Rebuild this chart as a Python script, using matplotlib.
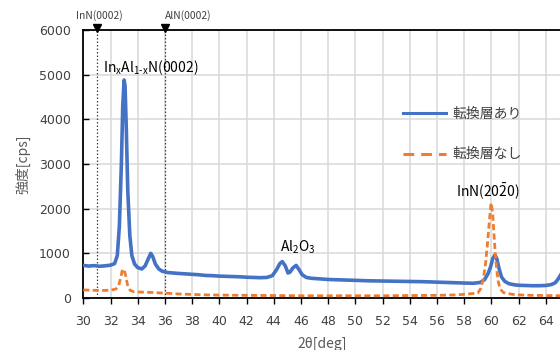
import matplotlib
matplotlib.use("Agg")
import matplotlib.pyplot as plt
from matplotlib.lines import Line2D

plt.rcParams['font.family'] = ['Noto Sans CJK JP', 'DejaVu Sans']
plt.rcParams['mathtext.fontset'] = 'custom'
plt.rcParams['mathtext.rm'] = 'Noto Sans CJK JP'
plt.rcParams['mathtext.it'] = 'Noto Sans CJK JP'
plt.rcParams['mathtext.default'] = 'rm'

# --- data ---
x_with = [30.0, 30.4, 30.8, 31.2, 31.6, 32.0, 32.3, 32.5, 32.65, 32.8, 32.9, 33.0, 33.07, 33.17,
          33.27, 33.42, 33.57, 33.77, 34.0, 34.3, 34.55, 34.75, 34.96, 35.1, 35.3, 35.55, 35.8,
          36.2, 36.6, 37.0, 37.5, 38.0, 38.5, 39.0, 39.5, 40.0, 40.5, 41.0, 41.5, 42.0, 42.5,
          43.0, 43.5, 43.9, 44.2, 44.45, 44.63, 44.85, 45.05, 45.2, 45.4, 45.65, 45.85, 46.1,
          46.4, 46.8, 47.3, 48.0, 49.0, 50.0, 51.0, 52.0, 53.0, 54.0, 55.0, 56.0, 57.0, 58.0,
          58.7, 59.2, 59.5, 59.75, 59.95, 60.1, 60.27, 60.4, 60.55, 60.75, 61.0, 61.3, 61.7,
          62.0, 62.5, 63.0, 63.5, 64.0, 64.4, 64.7, 64.9, 65.1]
y_with = [730, 715, 725, 710, 720, 735, 770, 950, 1600, 3000, 4300, 4880, 4750, 3700,
          2400, 1400, 950, 760, 680, 650, 720, 860, 1000, 930, 760, 650, 600,
          570, 560, 550, 540, 530, 520, 505, 500, 490, 485, 480, 475, 465, 460,
          455, 460, 500, 630, 770, 815, 720, 560, 580, 670, 730, 640, 520,
          460, 440, 430, 415, 405, 395, 385, 380, 375, 370, 365, 355, 345, 335,
          330, 350, 410, 540, 700, 880, 965, 880, 680, 470, 370, 320, 295,
          285, 280, 275, 275, 280, 300, 340, 420, 520]

x_without = [30.0, 30.5, 31.0, 31.5, 32.0, 32.4, 32.6, 32.75, 32.88, 32.98, 33.1, 33.25, 33.45,
             33.7, 34.0, 34.5, 35.0, 35.5, 36.0, 37.0, 38.0, 39.0, 40.0, 42.0, 44.0, 46.0,
             48.0, 50.0, 52.0, 54.0, 56.0, 57.5, 58.3, 59.0, 59.2, 59.4, 59.55, 59.7, 59.85,
             59.98, 60.1, 60.2, 60.3, 60.4, 60.5, 60.65, 60.9, 61.2, 61.6, 62.0, 63.0, 64.0, 65.1]
y_without = [180, 175, 170, 170, 175, 200, 280, 450, 640, 640, 520, 300, 170,
             140, 135, 130, 125, 115, 110, 90, 80, 70, 65, 60, 55, 50,
             50, 50, 50, 55, 60, 70, 90, 110, 200, 420, 700, 1150, 1700,
             2130, 1900, 1400, 950, 630, 380, 200, 120, 100, 80, 70, 60, 55, 50]

series_labels = ['転換層あり', '転換層なし']
ref_positions = [31, 36]
ref_labels = ['InN(0002)', 'AlN(0002)']
xticks = list(range(30, 66, 2))
yticks = list(range(0, 7000, 1000))

blue = '#4472C4'
orange = '#ED7D31'
tick_color = '#404040'

fig = plt.figure(figsize=(5.6, 3.5), dpi=100)
ax = fig.add_axes([83.3 / 560, 52 / 350, (560 - 83.3) / 560, 268 / 350])
ax.set_xlim(30, 65.05)
ax.set_ylim(0, 6000)
ax.set_xticks(xticks)
ax.set_yticks(yticks)
ax.grid(True, color='#d9d9d9', linewidth=1.1)
ax.set_axisbelow(True)
for s in ['left', 'bottom', 'top']:
    ax.spines[s].set_color('black')
    ax.spines[s].set_linewidth(1.3)
ax.spines['right'].set_visible(False)
ax.tick_params(axis='x', direction='out', length=4, width=1, colors='black',
               labelcolor=tick_color, labelsize=9, pad=8)
ax.tick_params(axis='y', direction='in', length=4, width=1, colors='black',
               labelcolor=tick_color, labelsize=9, pad=9)
for lbl in ax.get_xticklabels() + ax.get_yticklabels():
    lbl.set_fontfamily('DejaVu Sans')

for xr in ref_positions:
    ax.axvline(xr, color='#404040', linestyle=(0, (1.2, 1.6)), linewidth=0.9, zorder=1.5)
    ax.plot([xr], [6035], marker='v', color='black', markersize=6, clip_on=False, zorder=5)

ax.plot(x_with, y_with, color=blue, linewidth=2.6, zorder=3, solid_joinstyle='round')
ax.plot(x_without, y_without, color=orange, linewidth=2.0, zorder=4,
        linestyle=(0, (2.2, 1.2)))

# reference labels above the plot
fig.text(99.5 / 560, 1 - 16 / 350, ref_labels[0], fontsize=7.4, color=tick_color,
         ha='center', va='center')
fig.text(188 / 560, 1 - 16 / 350, ref_labels[1], fontsize=7.4, color=tick_color,
         ha='center', va='center')

# peak annotations
fig.text(103 / 560, 1 - 68 / 350, r'In$_x$Al$_{1\text{-}x}$N(0002)', fontsize=10,
         color='black', ha='left', va='center')
fig.text(280 / 560, 1 - 247 / 350, r'Al$_2$O$_3$', fontsize=10, color='black',
         ha='left', va='center')
fig.text(456 / 560, 1 - 192 / 350, r'InN(20$\bar{2}$0)', fontsize=10, color='black',
         ha='left', va='center')

ax.set_ylabel('強度[cps]', fontsize=10, color='#595959', labelpad=6)
fig.text(322 / 560, 1 - 344 / 350, '2θ[deg]', fontsize=10, color='#595959',
         ha='center', va='center')

handles = [Line2D([], [], color=blue, linewidth=2.2),
           Line2D([], [], color=orange, linewidth=2.2, linestyle=(0, (3.5, 2.3)))]
ax.legend(handles, series_labels, loc='upper left', frameon=False,
          bbox_to_anchor=(403 / 560, 1 - 107 / 350), bbox_transform=fig.transFigure,
          fontsize=10, labelcolor='#404040', handlelength=3.1, handletextpad=0.45,
          labelspacing=1.9, borderpad=0, borderaxespad=0)

fig.savefig('out.png', dpi=100)
